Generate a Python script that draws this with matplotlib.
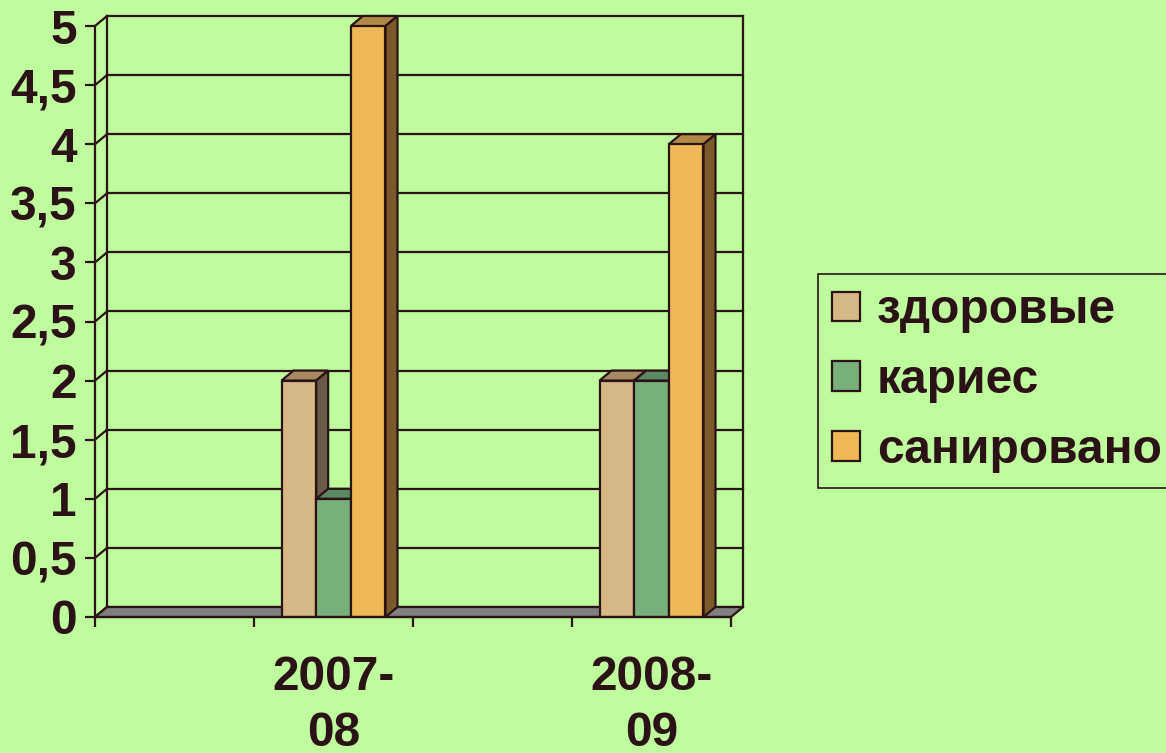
import matplotlib.pyplot as plt
import numpy as np
from matplotlib.patches import Polygon

# Данные (пустые позиции оставлены как в исходной диаграмме)
categories = ['', '2007-\n08', '', '2008-\n09']
series_names = ['здоровые', 'кариес', 'санировано']
zdorovye = [np.nan, 2, np.nan, 2]
karies = [np.nan, 1, np.nan, 2]
sanirovano = [np.nan, 5, np.nan, 4]
y_ticks = [0, 0.5, 1, 1.5, 2, 2.5, 3, 3.5, 4, 4.5, 5]

# Цвета: фасад, верх, бок
front_colors = ['#D5B885', '#78B07C', '#EEB856']
top_colors = ['#A88A62', '#5A8A62', '#B08A45']
side_colors = ['#6B5A45', '#4F6E52', '#7A5A2A']
bg = '#BFFC9E'
dark = '#2B1216'
floor_color = '#808080'

plt.rcParams['font.family'] = ['Liberation Sans', 'DejaVu Sans']
plt.rcParams['font.weight'] = 'bold'
fs = 34.5

W, H = 1166, 753
fig = plt.figure(figsize=(W / 100, H / 100), dpi=100, facecolor=bg)
ax = fig.add_axes([95 / W, (H - 617) / H, 636 / W, 591 / H])
ax.set_facecolor('none')
ax.set_xlim(0, len(categories))
ax.set_ylim(0, 5)

# глубина "3D" в единицах данных
dx = 12 / 636 * len(categories)
dy = 10 / 591 * 5
lw = 1.6
xmax = len(categories)

# задняя стенка и сетка
for v in y_ticks:
    ax.plot([dx, xmax + dx], [v + dy, v + dy], color=dark, lw=lw, zorder=1, clip_on=False)
    ax.plot([0, dx], [v, v + dy], color=dark, lw=lw, zorder=1, clip_on=False)
ax.plot([dx, dx], [dy, 5 + dy], color=dark, lw=lw, zorder=1, clip_on=False)
ax.plot([xmax + dx, xmax + dx], [dy, 5 + dy], color=dark, lw=lw, zorder=1, clip_on=False)

# пол
ax.add_patch(Polygon([[0, 0], [xmax, 0], [xmax + dx, dy], [dx, dy]], closed=True,
                     facecolor=floor_color, edgecolor=dark, lw=lw, zorder=2, clip_on=False))

# столбцы
x = np.arange(len(categories)) + 0.5
bw = 0.218
offsets = [-bw, 0, bw]
all_series = [zdorovye, karies, sanirovano]
for i, (vals, name) in enumerate(zip(all_series, series_names)):
    z = 3 + i
    xs = x + offsets[i]
    ax.bar(xs, vals, width=bw, color=front_colors[i], edgecolor=dark, lw=lw,
           zorder=z + 0.5, label=name)
    for xc, h in zip(xs, vals):
        if np.isnan(h):
            continue
        l, r = xc - bw / 2, xc + bw / 2
        ax.add_patch(Polygon([[l, h], [r, h], [r + dx, h + dy], [l + dx, h + dy]], closed=True,
                             facecolor=top_colors[i], edgecolor=dark, lw=lw, zorder=z,
                             clip_on=False))
        ax.add_patch(Polygon([[r, 0], [r + dx, dy], [r + dx, h + dy], [r, h]], closed=True,
                             facecolor=side_colors[i], edgecolor=dark, lw=lw, zorder=z,
                             clip_on=False))

# оси
for s in ['top', 'right']:
    ax.spines[s].set_visible(False)
for s in ['left', 'bottom']:
    ax.spines[s].set_color(dark)
    ax.spines[s].set_linewidth(lw)
    ax.spines[s].set_zorder(10)

ax.set_yticks(y_ticks)
ax.set_yticklabels([f'{v:g}'.replace('.', ',') for v in y_ticks])
ax.tick_params(axis='y', length=7.2, width=lw, pad=6, labelsize=fs, colors=dark)

ax.set_xticks(np.arange(len(categories) + 1))
ax.set_xticklabels([])
ax.set_xticks(x, minor=True)
ax.set_xticklabels(categories, minor=True)
ax.tick_params(axis='x', which='major', length=7.2, width=lw, colors=dark)
ax.tick_params(axis='x', which='minor', length=0, pad=27, labelsize=fs, colors=dark)
for t in ax.get_xticklabels(minor=True):
    t.set_linespacing(1.32)

leg = fig.legend(loc='upper left', bbox_to_anchor=(818 / W, 1 - 274 / H),
                 fontsize=fs, handlelength=0.58, handleheight=0.58, handletextpad=0.35,
                 labelspacing=0.52, borderpad=0.3, fancybox=False, framealpha=1,
                 facecolor=bg, edgecolor=dark, borderaxespad=0)
leg.get_frame().set_linewidth(1.2)
for t in leg.get_texts():
    t.set_color(dark)

fig.savefig('out.png', dpi=100, facecolor=bg)
